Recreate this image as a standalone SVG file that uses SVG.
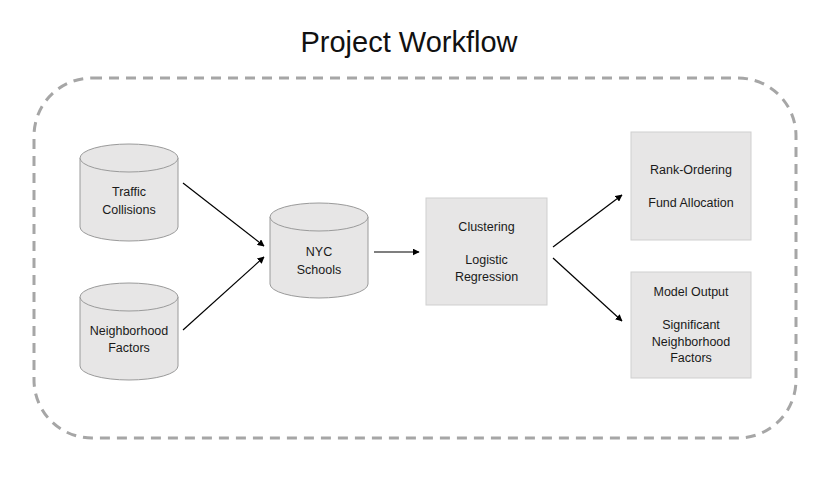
<svg xmlns="http://www.w3.org/2000/svg" width="833" height="479" viewBox="0 0 833 479">
<defs>
<style>
.t{font-family:"Liberation Sans",Arial,sans-serif;font-size:12.5px;fill:#1a1a1a;text-anchor:middle}
.title{font-family:"Liberation Sans",Arial,sans-serif;font-size:29px;fill:#111;text-anchor:middle}
.cyl{fill:#e7e6e6;stroke:#9a9a9a;stroke-width:1}
.box{fill:#e7e6e6;stroke:#cfcfcf;stroke-width:1}
.arr{stroke:#000;stroke-width:1.2;fill:none;marker-end:url(#ah)}
</style>
<marker id="ah" viewBox="0 0 10 10" refX="9" refY="5" markerWidth="7" markerHeight="7" orient="auto" markerUnits="userSpaceOnUse">
<path d="M0,0 L10,5 L0,10 z" fill="#000"/>
</marker>
</defs>
<rect width="833" height="479" fill="#fff"/>
<text class="title" x="409" y="52">Project Workflow</text>
<rect id="frame" x="34" y="78" width="762" height="360" rx="58" ry="58" fill="none" stroke="#a6a6a6" stroke-width="3" stroke-dasharray="10,7"/>
<g id="traffic">
<path class="cyl" d="M80,158 A49,14 0 0 1 178,158 L178,227 A49,14 0 0 1 80,227 Z"/>
<path class="cyl" d="M80,158 A49,14 0 0 0 178,158" fill="none"/>
<text class="t" x="129" y="196">Traffic</text>
<text class="t" x="129" y="214">Collisions</text>
</g>
<g id="neighborhood">
<path class="cyl" d="M80,297 A49,14 0 0 1 178,297 L178,366 A49,14 0 0 1 80,366 Z"/>
<path class="cyl" d="M80,297 A49,14 0 0 0 178,297" fill="none"/>
<text class="t" x="129" y="335">Neighborhood</text>
<text class="t" x="129" y="352">Factors</text>
</g>
<g id="nyc">
<path class="cyl" d="M270,217 A49,14 0 0 1 368,217 L368,284 A49,14 0 0 1 270,284 Z"/>
<path class="cyl" d="M270,217 A49,14 0 0 0 368,217" fill="none"/>
<text class="t" x="319" y="256">NYC</text>
<text class="t" x="319" y="274">Schools</text>
</g>
<g id="clustering">
<rect class="box" x="426" y="198" width="121" height="107"/>
<text class="t" x="486.5" y="231">Clustering</text>
<text class="t" x="486.5" y="264">Logistic</text>
<text class="t" x="486.5" y="281">Regression</text>
</g>
<g id="rank">
<rect class="box" x="631" y="132" width="120" height="108"/>
<text class="t" x="691" y="174">Rank-Ordering</text>
<text class="t" x="691" y="207">Fund Allocation</text>
</g>
<g id="model">
<rect class="box" x="631" y="272" width="120" height="106"/>
<text class="t" x="691" y="296">Model Output</text>
<text class="t" x="691" y="329">Significant</text>
<text class="t" x="691" y="346">Neighborhood</text>
<text class="t" x="691" y="362">Factors</text>
</g>
<g id="connectors">
<line class="arr" x1="183" y1="183" x2="264" y2="246"/>
<line class="arr" x1="183" y1="330" x2="264" y2="257"/>
<line class="arr" x1="374" y1="252" x2="419" y2="252"/>
<line class="arr" x1="553" y1="247" x2="622" y2="195"/>
<line class="arr" x1="553" y1="258" x2="622" y2="321"/>
</g>
</svg>
